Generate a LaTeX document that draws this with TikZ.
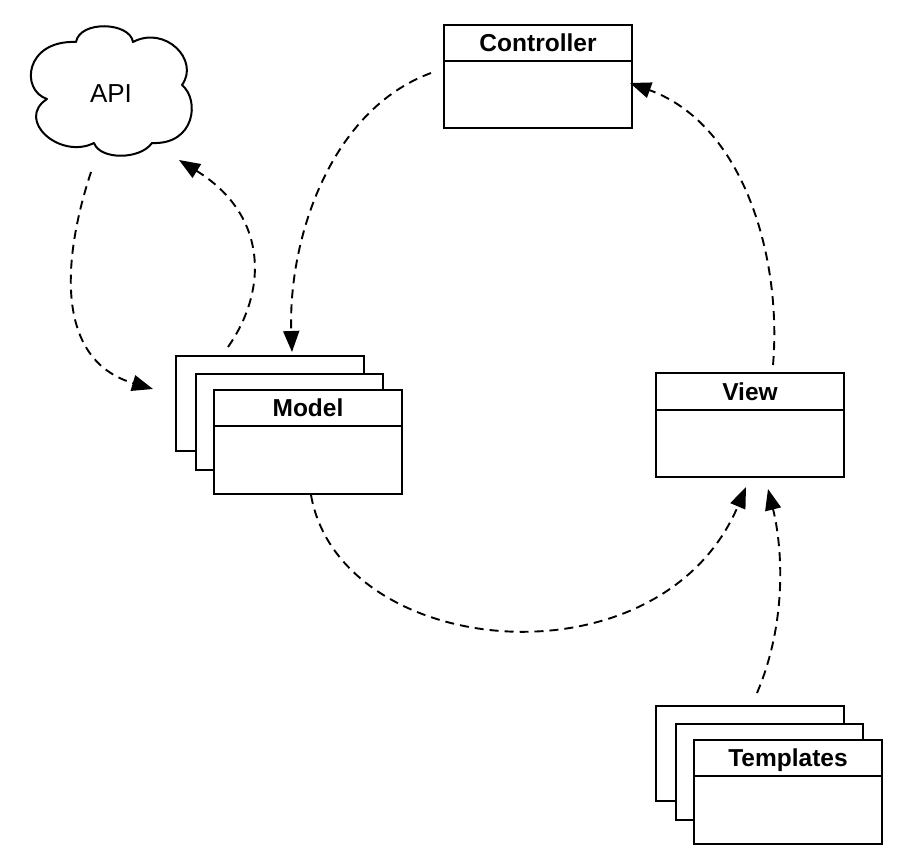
\documentclass[tikz,border=0pt]{standalone}
\usepackage{fontspec}
\setmainfont{Liberation Sans}
\usetikzlibrary{arrows.meta}
\begin{document}
\begin{tikzpicture}[x=1pt,y=-1pt,
  box/.style={draw, fill=white, line width=2pt, inner sep=0pt, minimum width=188pt},
  ttl/.style={font=\fontsize{24.5}{28}\selectfont\bfseries, inner sep=0pt, anchor=base},
  divider/.style={line width=2pt},
  conn/.style={line width=1.9pt, dash pattern=on 9pt off 6pt, -{Triangle[length=21pt,width=16pt]}},
  cloudline/.style={line width=2pt, line join=round}
]
\useasboundingbox (0,0) rectangle (904,866);

% API cloud
\draw[cloudline] (47,99) .. controls (20,90) and (25,40) .. (76,42)
  .. controls (80,20) and (130,22) .. (133,42)
  .. controls (165,25) and (200,60) .. (182,85)
  .. controls (200,100) and (195,145) .. (152,143)
  .. controls (140,160) and (100,160) .. (94,143)
  .. controls (60,160) and (15,120) .. (47,99) -- cycle;
\node[font=\fontsize{26}{30}\selectfont, inner sep=0pt] (api) at (111,93.5) {API};

% Controller
\node[box, minimum height=103pt] (ctrl) at (538,76.5) {};
\draw[divider] ([yshift=-37pt]ctrl.north west) -- ([yshift=-37pt]ctrl.north east);
\node[ttl] (ctrlt) at (538,51.5) {Controller};

% View
\node[box, minimum height=104pt] (view) at (750,425) {};
\draw[divider] ([yshift=-38pt]view.north west) -- ([yshift=-38pt]view.north east);
\node[ttl] (viewt) at (750,400.5) {View};

% Model stack
\node[box, minimum height=95pt] (modelb) at (270,403.5) {};
\node[box, minimum width=187pt, minimum height=96pt] (modelm) at (289.5,422) {};
\node[box, minimum height=104pt] (model) at (308,442) {};
\draw[divider] ([yshift=-37pt]model.north west) -- ([yshift=-37pt]model.north east);
\node[ttl] (modelt) at (308,416.5) {Model};

% Templates stack
\node[box, minimum height=95pt] (tplb) at (750,753.5) {};
\node[box, minimum width=187pt, minimum height=96pt] (tplm) at (769.5,772) {};
\node[box, minimum height=104pt] (tpl) at (788,792) {};
\draw[divider] ([yshift=-37pt]tpl.north west) -- ([yshift=-37pt]tpl.north east);
\node[ttl] (tplt) at (788,766.5) {Templates};

% connector end points
\coordinate (apiout) at (91,172);
\coordinate (modelin) at (153,389);
\coordinate (modelout) at (228,347);
\coordinate (apiin) at (179,160);
\coordinate (ctrlout) at (431,73);
\coordinate (modeltop) at (292,352);
\coordinate (viewout) at (773,365);
\coordinate (ctrlin) at (630,83);
\coordinate (modelbot) at (311,495);
\coordinate (viewin1) at (746,487);
\coordinate (tplout) at (757,693);
\coordinate (viewin2) at (768,489);

% connectors
\draw[conn] (apiout) .. controls (62,260) and (55,360) .. (modelin);
\draw[conn] (modelout) .. controls (268,290) and (268,215) .. (apiin);
\draw[conn] (ctrlout) .. controls (330,110) and (288,240) .. (modeltop);
\draw[conn] (viewout) .. controls (782,260) and (745,125) .. (ctrlin);
\draw[conn] (modelbot) .. controls (340,660) and (660,690) .. (viewin1);
\draw[conn] (tplout) .. controls (788,620) and (782,545) .. (viewin2);
\end{tikzpicture}
\end{document}
